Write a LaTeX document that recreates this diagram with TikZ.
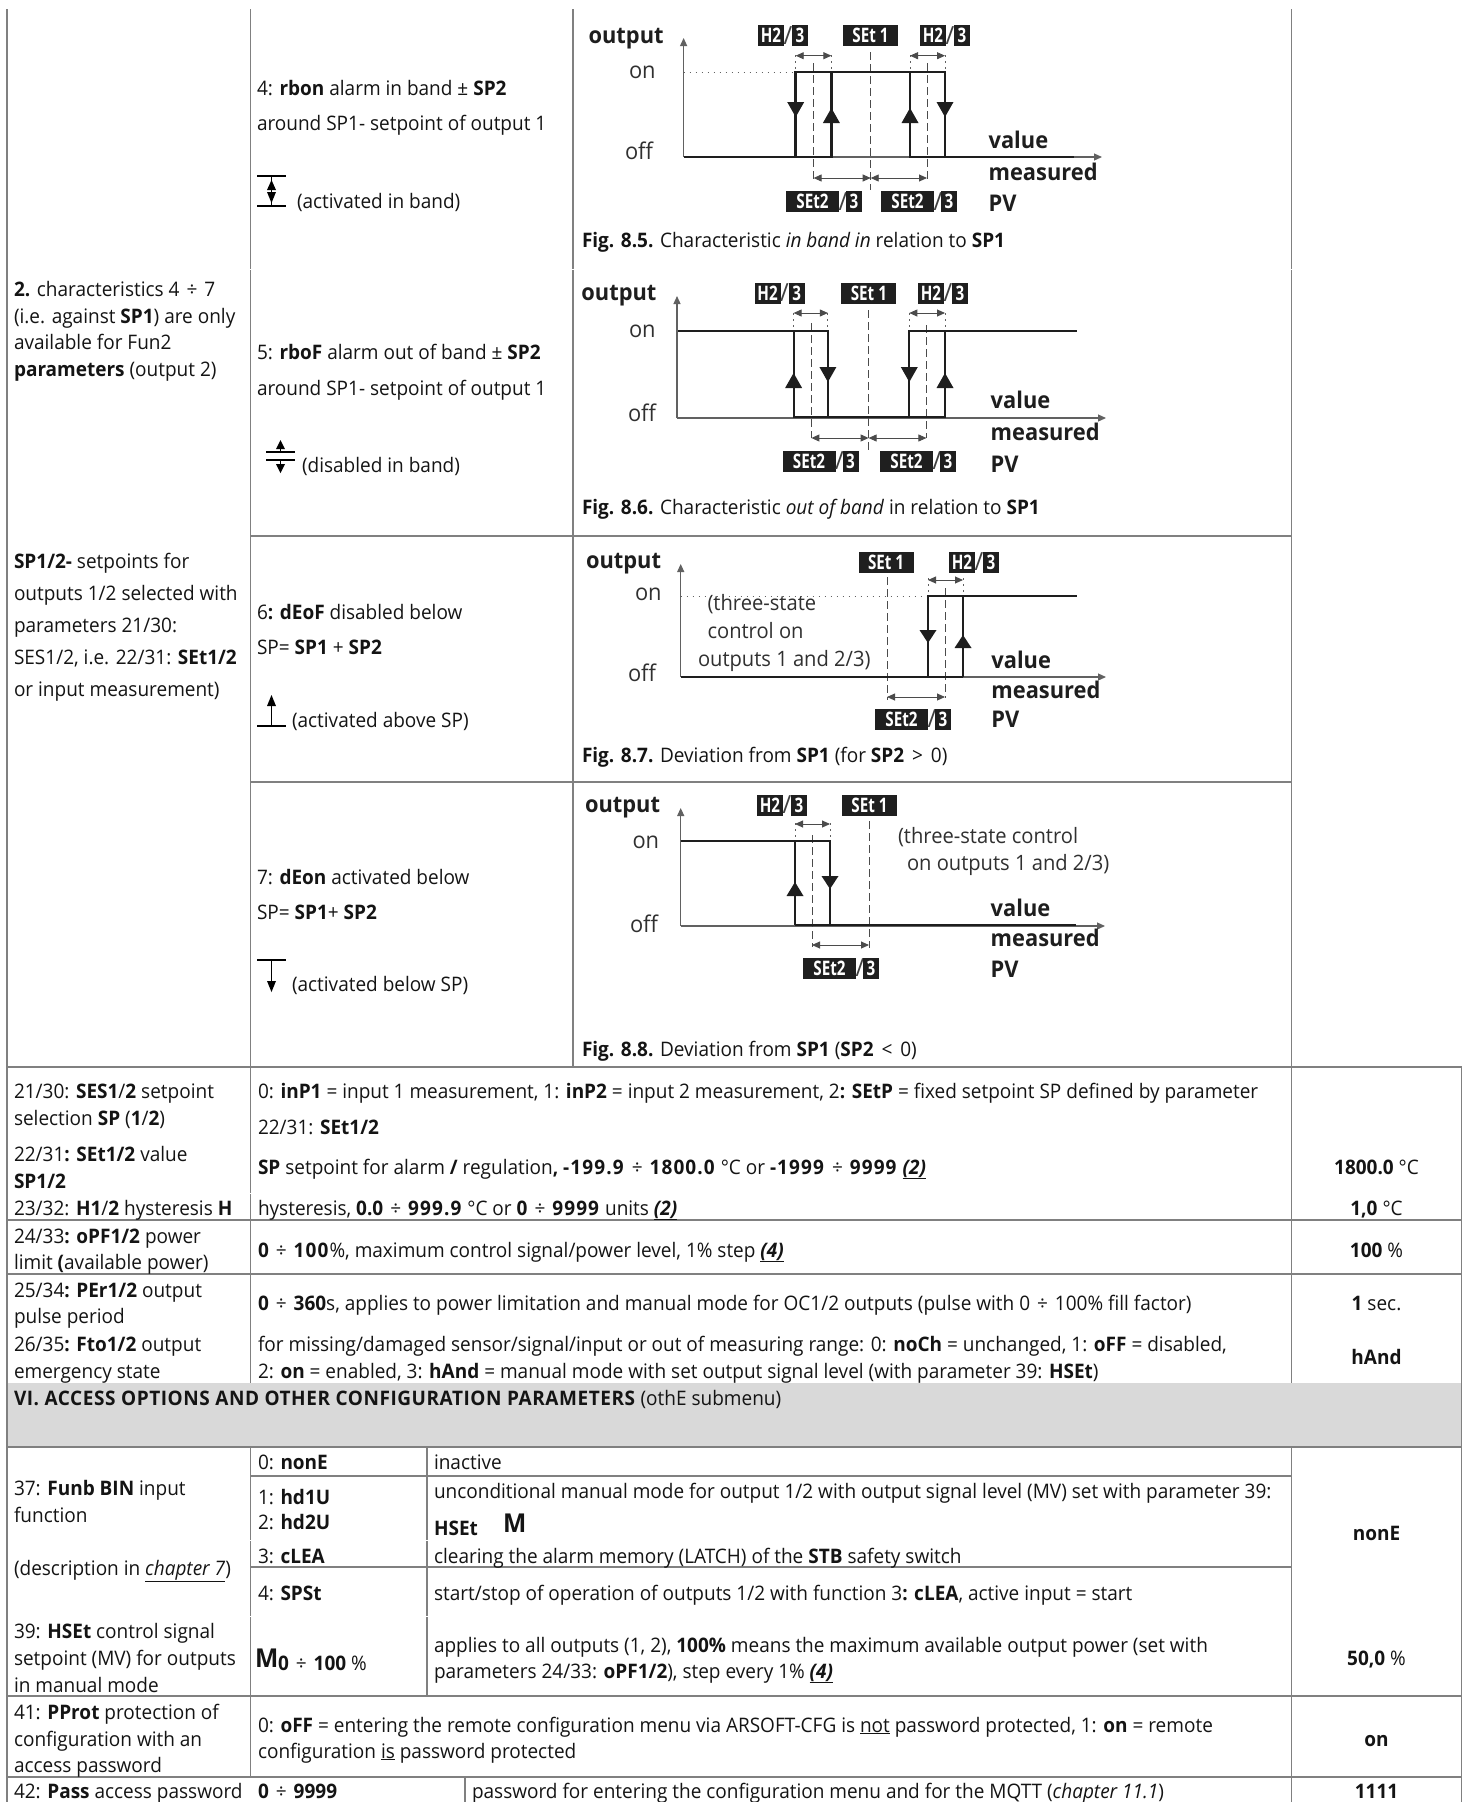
\documentclass[tikz,border=0pt]{standalone}
\usepackage{graphicx}
\usepackage{fontspec}
\setmainfont{Open Sans}[FakeStretch=0.95]
\usetikzlibrary{arrows.meta}
\definecolor{gridc}{HTML}{808080}
\definecolor{headc}{HTML}{D9D9D9}
\definecolor{figc}{HTML}{1E1E1E}
\newcounter{tn}
\tikzset{
  txt/.style={anchor=base west,inner sep=0pt,outer sep=0pt,font=\fontsize{20}{24}\selectfont,text=black!92},
  ctr/.style={anchor=base,inner sep=0pt,outer sep=0pt,font=\fontsize{20}{24}\selectfont,text=black!92},
  figt/.style={anchor=base west,inner sep=0pt,outer sep=0pt,font=\fontsize{23}{26}\selectfont,text=figc!92},
  fign/.style={anchor=base west,inner sep=0pt,outer sep=0pt,font=\fontsize{21.2}{26}\selectfont,text=figc!92},
  figb/.style={anchor=base west,inner sep=0pt,outer sep=0pt,font=\fontsize{23}{26}\selectfont\bfseries,text=figc},
  grid/.style={draw=gridc,line width=1.4pt},
  ax/.style={draw=figc!70,line width=1.2pt,-{Triangle[length=8pt,width=7pt]}},
  sigth/.style={draw=figc,line width=2.8pt},
  sigm/.style={draw=figc,line width=1.9pt},
  dsh/.style={draw=figc!80,line width=0.9pt,dash pattern=on 8pt off 4pt},
  dot/.style={draw=figc!70,line width=1pt,dash pattern=on 1.5pt off 4.5pt},
  dim/.style={draw=figc!80,line width=0.9pt,{Triangle[length=8pt,width=7pt]}-{Triangle[length=8pt,width=7pt]}},
  bdgbox/.style={anchor=west,fill=black!88,text=white,inner sep=0pt,outer sep=0pt,minimum height=21pt,font=\fontsize{16}{16}\selectfont\bfseries},
  bdgs/.style={anchor=center,inner sep=0pt,text=figc!85,font=\fontsize{25}{25}\selectfont},
  gapw/.style={draw=white,line width=2pt},
}
\newcommand{\TX}[3]{\stepcounter{tn}\node[txt] (t\arabic{tn}) at (#1,#2) {#3};}
\newcommand{\TC}[3]{\stepcounter{tn}\node[ctr] (t\arabic{tn}) at (#1,#2) {#3};}
\newcommand{\FT}[3]{\stepcounter{tn}\node[figt] (t\arabic{tn}) at (#1,#2) {#3};}
\newcommand{\FN}[3]{\stepcounter{tn}\node[fign] (t\arabic{tn}) at (#1,#2) {#3};}
\newcommand{\FB}[3]{\stepcounter{tn}\node[figb] (t\arabic{tn}) at (#1,#2) {#3};}
\newcommand{\dv}{\hspace{7pt}÷\hspace{7pt}}
\newcommand{\bn}[1]{\textbf{\addfontfeature{LetterSpace=5.5}#1}}
% badges: x left, y centre
\newcommand{\BoxT}[4]{\stepcounter{tn}\node[bdgbox,minimum width=#3 pt] (t\arabic{tn}) at (#1,#2) {\scalebox{1}[1.25]{#4}};}
\newcommand{\HB}[2]{\BoxT{#1}{#2}{26}{H2}\stepcounter{tn}\node[bdgs] (t\arabic{tn}) at (#1+30,#2) {/};\BoxT{#1+34}{#2}{16}{3}}
\newcommand{\SB}[2]{\BoxT{#1}{#2}{53}{SEt2}\stepcounter{tn}\node[bdgs] (t\arabic{tn}) at (#1+57,#2) {/};\BoxT{#1+60}{#2}{16}{3}}
\newcommand{\OB}[2]{\BoxT{#1}{#2}{55}{SEt 1}}
% upward / downward triangle markers: x, y top, y base
\newcommand{\UpT}[3]{\fill[figc] (#1,#2) -- (#1+8.5,#3) -- (#1-8.5,#3) -- cycle;}
\newcommand{\DnT}[3]{\fill[figc] (#1-8.5,#2) -- (#1+8.5,#2) -- (#1,#3) -- cycle;}
\begin{document}
\begin{tikzpicture}[x=1pt,y=-1pt]
\useasboundingbox (0,0) rectangle (1464,1802);
\fill[white] (0,0) rectangle (1464,1802);
% ---- grid
\fill[headc] (7,1383) rectangle (1461.5,1447);
\draw[grid] (7,9) -- (7,1802);
\draw[grid] (250.5,9) -- (250.5,1067);
\draw[grid] (573,9) -- (573,1067);
\draw[grid] (1291.5,9) -- (1291.5,1067);
\draw[grid] (250,536) -- (1291.5,536);
\draw[grid] (250,782) -- (1291.5,782);
\draw[grid] (7,1067) -- (1461.5,1067);
\draw[grid] (1461.5,1067) -- (1461.5,1802);
\draw[grid] (250.5,1067) -- (250.5,1383);
\draw[grid] (1291.5,1067) -- (1291.5,1383);
\draw[grid] (7,1220) -- (1461.5,1220);
\draw[grid] (7,1274) -- (1461.5,1274);
\draw[grid] (7,1447) -- (1461.5,1447);
\draw[grid] (250.5,1447) -- (250.5,1777);
\draw[grid] (427,1447) -- (427,1696);
\draw[grid] (1291.5,1447) -- (1291.5,1802);
\draw[grid] (250,1476) -- (1291.5,1476);
\draw[grid] (250,1567) -- (1291.5,1567);
\draw[grid] (7,1696) -- (1461.5,1696);
\draw[grid] (7,1777) -- (1461.5,1777);
\draw[grid] (465,1777) -- (465,1802);
% small breaks in the vertical rules
\draw[gapw] (250.5,1192.5) -- (250.5,1194);
\draw[gapw] (250.5,1539.5) -- (250.5,1541) (427,1539.5) -- (427,1541);
\draw[gapw] (250.5,1615.5) -- (250.5,1617) (427,1615.5) -- (427,1617);
\draw[gapw] (250.5,268.5) -- (250.5,270) (573,268.5) -- (573,270) (1291.5,268.5) -- (1291.5,270);
% ---- first column text
\TX{14}{296}{\textbf{2.} characteristics 4\dv 7}
\TX{14}{323}{(i.e. against \textbf{SP1}) are only}
\TX{14}{349}{available for Fun2}
\TX{14}{376}{\textbf{parameters} (output 2)}
\TX{14}{568}{\textbf{SP1/2-} setpoints for}
\TX{14}{600}{outputs 1/2 selected with}
\TX{14}{632}{parameters 21/30:}
\TX{14}{664}{SES1/2, i.e. 22/31: \textbf{SEt1/2}}
\TX{14}{696}{or input measurement)}
% ---- second column text, upper part
\TX{257}{95}{4: \textbf{rbon} alarm in band ± \textbf{SP2}}
\TX{257}{130}{around SP1- setpoint of output 1}
\TX{297}{208}{(activated in band)}
\TX{257}{359}{5: \textbf{rboF} alarm out of band ± \textbf{SP2}}
\TX{257}{395}{around SP1- setpoint of output 1}
\TX{302}{472}{(disabled in band)}
\TX{257}{619}{6\textbf{: dEoF} disabled below}
\TX{257}{654}{SP= \textbf{SP1} + \textbf{SP2}}
\TX{292}{727}{(activated above SP)}
\TX{257}{884}{7: \textbf{dEon} activated below}
\TX{257}{919}{SP= \textbf{SP1}+ \textbf{SP2}}
\TX{292}{991}{(activated below SP)}
% ---- icons
\draw[black,line width=1.2pt] (257,176) -- (286,176) (257,206) -- (286,206);
\draw[black,line width=1pt] (271.5,176) -- (271.5,206);
\fill[black] (271.5,180) -- (276,190) -- (267,190) -- cycle (271.5,203) -- (276,192) -- (267,192) -- cycle;
\draw[black,line width=1.2pt] (266,452) -- (295,452) (266,460) -- (295,460);
\draw[black,line width=1pt] (280.5,442) -- (280.5,452) (280.5,460) -- (280.5,471);
\fill[black] (280.5,440) -- (285,449) -- (276,449) -- cycle (280.5,473) -- (285,464) -- (276,464) -- cycle;
\draw[black,line width=1.2pt] (257,726) -- (286,726);
\draw[black,line width=1pt] (271.5,697) -- (271.5,726);
\fill[black] (271.5,695) -- (276,706) -- (267,706) -- cycle;
\draw[black,line width=1.2pt] (257,960) -- (286,960);
\draw[black,line width=1pt] (271.5,960) -- (271.5,990);
\fill[black] (271.5,992) -- (276,981) -- (267,981) -- cycle;
% ---- Fig 8.5
\draw[ax] (683.6,157) -- (683.6,38);
\draw[ax] (683.6,157) -- (1102,157);
\draw[dot] (683.6,72) -- (795.7,72);
\draw[dot] (795.7,55) -- (795.7,72) (831.4,55) -- (831.4,72) (910,55) -- (910,72) (945,55) -- (945,72);
\draw[dsh] (813.6,63) -- (813.6,180) (870.7,52) -- (870.7,190) (927,63) -- (927,180);
\draw[sigth] (683.6,157) -- (831.4,157) -- (831.4,72);
\draw[sigth] (795.7,157) -- (795.7,72) -- (945,72) -- (945,157);
\draw[sigth] (910,72) -- (910,157) -- (1074,157);
\DnT{795.7}{102}{117}\UpT{831.4}{108}{123}\UpT{910}{108}{123}\DnT{945}{102}{117}
\draw[dim] (795.7,55.7) -- (831.4,55.7);
\draw[dim] (910,55.7) -- (945,55.7);
\draw[dim] (813.6,178) -- (870.7,178);
\draw[dim] (870.7,178) -- (927,178);
\HB{758}{35.5}\OB{843}{35.5}\HB{920}{35.5}
\SB{786}{201.5}\SB{881}{201.5}
\FB{588.6}{43}{output}
\FT{629}{78}{on}\FT{625}{159}{off}
\FB{988.6}{148}{value}\FB{988.6}{180}{measured}\FB{988.6}{211}{PV}
\TX{582}{247}{\textbf{Fig. 8.5.} Characteristic \textit{in band in} relation to \textbf{SP1}}
% ---- Fig 8.6
\draw[ax] (677,418) -- (677,296);
\draw[ax] (677,418) -- (1106,418);
\draw[dot] (793.6,313) -- (793.6,331) (827.9,313) -- (827.9,331) (909.3,313) -- (909.3,331) (945,313) -- (945,331);
\draw[dsh] (811.4,323) -- (811.4,438) (868.6,310) -- (868.6,450) (926.4,325) -- (926.4,438);
\draw[sigm] (678,331) -- (827.9,331) -- (827.9,417);
\draw[sigm] (793.6,331) -- (793.6,417) -- (945,417) -- (945,331) -- (1077,331);
\draw[sigm] (909.3,417) -- (909.3,331) -- (945,331);
\UpT{793.6}{373}{388}\DnT{827.9}{367}{382}\DnT{909.3}{367}{382}\UpT{945}{373}{388}
\draw[dim] (793.6,313) -- (827.9,313);
\draw[dim] (909.3,313) -- (945,313);
\draw[dim] (811.4,438) -- (868.6,438);
\draw[dim] (868.6,438) -- (926.4,438);
\HB{754.6}{293}\OB{841.4}{293}\HB{918}{293}
\SB{782.5}{461}\SB{880}{461}
\FB{581.4}{300}{output}
\FT{629}{337}{on}\FT{628}{421}{off}
\FB{990.7}{408}{value}\FB{990.7}{440}{measured}\FB{990.7}{472}{PV}
\TX{582}{514}{\textbf{Fig. 8.6.} Characteristic \textit{out of band} in relation to \textbf{SP1}}
% ---- Fig 8.7
\draw[ax] (680.7,677) -- (680.7,564);
\draw[ax] (680.7,677) -- (1106,677);
\draw[dot] (680.7,596) -- (928,596);
\draw[dot] (928,578) -- (928,596) (963,578) -- (963,596);
\draw[dsh] (887,577) -- (887,700) (945,588) -- (945,698);
\draw[sigth] (680.7,677) -- (963,677);
\draw[sigm] (928,677) -- (928,596) -- (1077,596);
\draw[sigm] (963,596) -- (963,677);
\DnT{928}{630}{643}\UpT{963}{635}{648}
\draw[dim] (928,580) -- (963,580);
\draw[dim] (887,697) -- (945,697);
\OB{858.6}{562}\HB{949}{562}\SB{875}{719}
\FB{586}{568}{output}
\FT{635}{600}{on}\FT{628}{681}{off}
\FN{707.5}{610}{(three-state}\FN{707.5}{638}{control on}\FN{698}{666}{outputs 1 and 2/3)}
\FB{991.4}{668}{value}\FB{991.4}{698}{measured}\FB{991.4}{727}{PV}
\TX{582}{762}{\textbf{Fig. 8.7.} Deviation from \textbf{SP1} (for \textbf{SP2}\hspace{3pt} > \hspace{3pt}0)}
% ---- Fig 8.8
\draw[ax] (680.7,926) -- (680.7,808);
\draw[ax] (680.7,926) -- (1105,926);
\draw[dot] (795,823) -- (795,841) (830,823) -- (830,841);
\draw[dsh] (812,835) -- (812,947) (869,821) -- (869,948);
\draw[sigm] (680.7,841) -- (830,841) -- (830,925);
\draw[sigm] (795,841) -- (795,925);
\draw[sigth] (795,925) -- (1076,925);
\UpT{795}{882}{896}\DnT{830}{876}{889}
\draw[dim] (795,824) -- (830,824);
\draw[dim] (812,945) -- (869,945);
\HB{757}{805}\OB{842}{805}\SB{803}{968}
\FB{585}{812}{output}
\FT{632.5}{848}{on}\FT{630}{932}{off}
\FN{898}{843}{(three-state control}\FN{907}{870}{on outputs 1 and 2/3)}
\FB{990.7}{916}{value}\FB{990.7}{946}{measured}\FB{990.7}{977}{PV}
\TX{582}{1056}{\textbf{Fig. 8.8.} Deviation from \textbf{SP1} (\textbf{SP2}\hspace{3pt} < \hspace{3pt}0)}
% ---- Lower table, column 1
\TX{14}{1098}{21/30: \textbf{SES1}/\textbf{2} setpoint}
\TX{14}{1125}{selection \textbf{SP} (\textbf{1}/\textbf{2})}
\TX{14}{1161}{22/31\textbf{: SEt1/2} value}
\TX{14}{1188}{\textbf{SP1/2}}
\TX{14}{1215}{23/32: \textbf{H1}/\textbf{2} hysteresis \textbf{H}}
\TX{14}{1243}{24/33\textbf{: oPF1/2} power}
\TX{14}{1269}{limit \textbf{(}available power)}
\TX{14}{1297}{25/34\textbf{: PEr1/2} output}
\TX{14}{1323}{pulse period}
\TX{14}{1351}{26/35\textbf{: Fto1/2} output}
\TX{14}{1378}{emergency state}
% ---- Lower table, column 2
\TX{258}{1098}{0: \textbf{inP1} = input 1 measurement, 1: \textbf{inP2} = input 2 measurement, 2\textbf{: SEtP} = fixed setpoint SP defined by parameter}
\TX{258}{1134}{22/31: \textbf{SEt1/2}}
\TX{258}{1174}{\textbf{SP} setpoint for alarm \textbf{/} regulation\textbf{, }\bn{-199.9}\dv\bn{1800.0} °C or \bn{-1999}\dv\bn{9999} \underline{\textbf{\textit{(2)}}}}
\TX{258}{1215}{hysteresis, \textbf{0.0}\dv\bn{999.9} °C or \textbf{0}\dv\bn{9999} units \underline{\textbf{\textit{(2)}}}}
\TX{258}{1257}{\textbf{0}\dv\bn{100}\%, maximum control signal/power level, 1\% step \underline{\textbf{\textit{(4)}}}}
\TX{258}{1310}{\textbf{0}\dv\textbf{360}s, applies to power limitation and manual mode for OC1/2 outputs (pulse with 0\dv 100\% fill factor)}
\TX{258}{1351}{for missing/damaged sensor/signal/input or out of measuring range: 0: \textbf{noCh} = unchanged, 1: \textbf{oFF} = disabled,}
\TX{258}{1378}{2: \textbf{on} = enabled, 3: \textbf{hAnd} = manual mode with set output signal level (with parameter 39: \textbf{HSEt})}
% ---- right column
\TC{1376.5}{1174}{\textbf{1800.0} °C}
\TC{1376.5}{1215}{\textbf{1,0} °C}
\TC{1376.5}{1257}{\textbf{100} \%}
\TC{1376.5}{1310}{\textbf{1} sec.}
\TC{1376.5}{1364}{\textbf{hAnd}}
% ---- heading
\TX{14}{1405}{\textbf{\addfontfeature{LetterSpace=2.8}VI. ACCESS OPTIONS AND OTHER CONFIGURATION PARAMETERS} (othE submenu)}
% ---- section VI
\TX{14}{1495}{37: \textbf{Funb BIN} input}
\TX{14}{1522}{function}
\TX{14}{1575}{(description in \underline{\textit{chapter 7}})}
\TX{14}{1638}{39: \textbf{HSEt} control signal}
\TX{14}{1665}{setpoint (MV) for outputs}
\TX{14}{1692}{in manual mode}
\TX{258}{1469}{0: \textbf{nonE}}
\TX{434}{1469}{inactive}
\TX{258}{1504}{1: \textbf{hd1U}}
\TX{258}{1529}{2: \textbf{hd2U}}
\TX{434}{1498}{unconditional manual mode for output 1/2 with output signal level (MV) set with parameter 39:}
\TX{434}{1535}{\textbf{HSEt}}
\stepcounter{tn}\node[txt,font=\fontsize{26}{26}\selectfont\bfseries] (t\arabic{tn}) at (503,1532) {M};
\TX{258}{1563}{3: \textbf{cLEA}}
\TX{434}{1563}{clearing the alarm memory (LATCH) of the \textbf{STB} safety switch}
\TX{258}{1600}{4: \textbf{SPSt}}
\TX{434}{1600}{start/stop of operation of outputs 1/2 with function 3\textbf{: cLEA}, active input = start}
\stepcounter{tn}\node[txt,font=\fontsize{26}{26}\selectfont\bfseries] (t\arabic{tn}) at (255,1667) {M};
\TX{278}{1670}{\textbf{0}\dv\textbf{100} \%}
\TX{434}{1652}{applies to all outputs (1, 2), \textbf{100\%} means the maximum available output power (set with}
\TX{434}{1678}{parameters 24/33: \textbf{oPF1/2}), step every 1\% \underline{\textbf{\textit{(4)}}}}
\TC{1376.5}{1540}{\textbf{nonE}}
\TC{1376.5}{1665}{\textbf{50,0} \%}
\TX{14}{1719}{41: \textbf{PProt} protection of}
\TX{14}{1746}{configuration with an}
\TX{14}{1772}{access password}
\TX{258}{1732}{0: \textbf{oFF} = entering the remote configuration menu via ARSOFT-CFG is \underline{not} password protected, 1: \textbf{on} = remote}
\TX{258}{1758}{configuration \underline{is} password protected}
\TC{1376.5}{1746}{\textbf{on}}
\TX{14}{1798}{42: \textbf{Pass} access password}
\TX{258}{1798}{\textbf{0}\dv\textbf{9999}}
\TX{472}{1798}{password for entering the configuration menu and for the MQTT (\underline{\textit{chapter 11.1}})}
\TC{1376.5}{1798}{\textbf{1111}}
\end{tikzpicture}
\end{document}
